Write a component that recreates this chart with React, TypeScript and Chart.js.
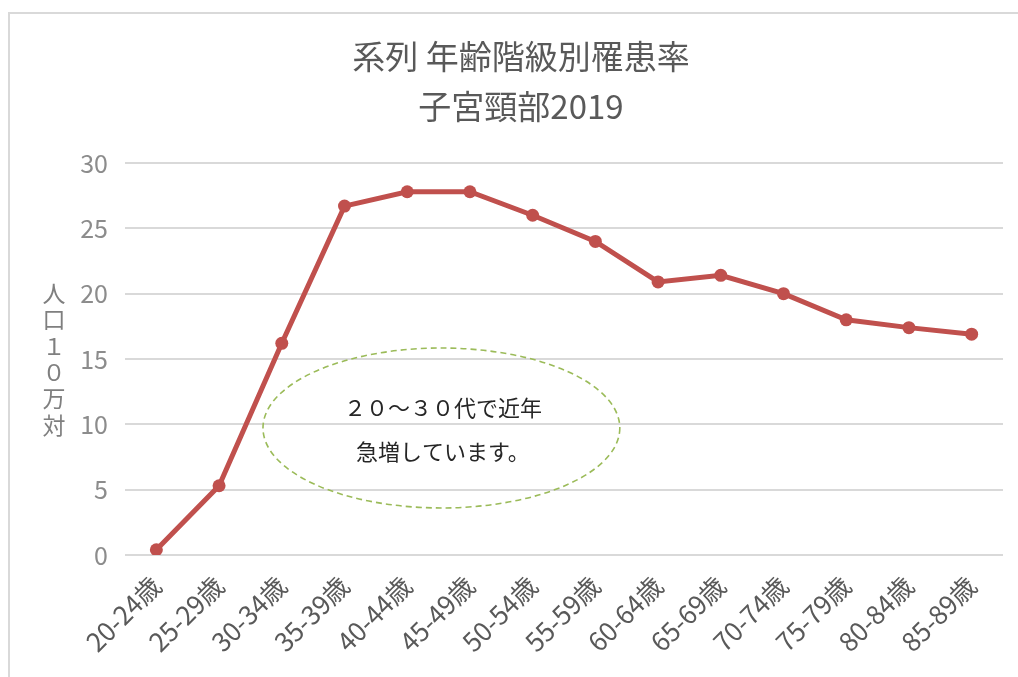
import React, { useEffect, useRef } from "react";
import { Chart, registerables } from "chart.js";

Chart.register(...registerables);

const TITLE_LINES = ["系列 年齢階級別罹患率", "子宮頸部2019"];
const CATEGORIES = [
  "20-24歳", "25-29歳", "30-34歳", "35-39歳", "40-44歳", "45-49歳", "50-54歳",
  "55-59歳", "60-64歳", "65-69歳", "70-74歳", "75-79歳", "80-84歳", "85-89歳",
];
const RATES = [0.4, 5.3, 16.2, 26.7, 27.8, 27.8, 26.0, 24.0, 20.9, 21.4, 20.0, 18.0, 17.4, 16.9];
const Y_MIN = 0;
const Y_MAX = 30;
const Y_STEP = 5;
const Y_AXIS_TITLE = "人口１０万対";
const NOTE_LINES = ["２０～３０代で近年", "急増しています。"];
// note text anchors in data units: [category index, value]
const NOTE_TEXT_POS = [
  [4.57, 11.3],
  [4.57, 7.9],
];
// ellipse extents in data units: category index range and value range
const NOTE_X_RANGE = [1.7, 7.39];
const NOTE_Y_RANGE = [3.6, 15.84];

const JP_FONT = "'Noto Sans CJK JP', 'Noto Sans', sans-serif";

const decorations = {
  id: "decorations",
  afterDatasetsDraw(chart: any) {
    const { ctx, chartArea, scales } = chart;
    const xs = scales.x;
    const ys = scales.y;
    ctx.save();
    // ellipse annotation
    const l = xs.getPixelForValue(NOTE_X_RANGE[0]);
    const r = xs.getPixelForValue(NOTE_X_RANGE[1]);
    const t = ys.getPixelForValue(NOTE_Y_RANGE[1]);
    const b = ys.getPixelForValue(NOTE_Y_RANGE[0]);
    ctx.beginPath();
    ctx.ellipse((l + r) / 2, (t + b) / 2, (r - l) / 2, (b - t) / 2, 0, 0, Math.PI * 2);
    ctx.setLineDash([6, 4]);
    ctx.lineWidth = 1.6;
    ctx.strokeStyle = "#9bbb59";
    ctx.stroke();
    ctx.setLineDash([]);
    // note text
    ctx.fillStyle = "#262626";
    ctx.font = `22px ${JP_FONT}`;
    ctx.textAlign = "center";
    ctx.textBaseline = "middle";
    NOTE_LINES.forEach((line, i) => {
      const [cx, cy] = NOTE_TEXT_POS[i];
      ctx.fillText(line, xs.getPixelForValue(cx), ys.getPixelForValue(cy));
    });
    // stacked y-axis title
    ctx.fillStyle = "#7f7f7f";
    ctx.font = `23px ${JP_FONT}`;
    const chars = Array.from(Y_AXIS_TITLE);
    const step = 26.4;
    const midY = (chartArea.top + chartArea.bottom) / 2;
    const startY = midY - ((chars.length - 1) * step) / 2;
    chars.forEach((c, i) => {
      ctx.fillText(c, 44, startY + i * step);
    });
    ctx.restore();
  },
};

export default function App() {
  const canvasRef = useRef<HTMLCanvasElement | null>(null);

  useEffect(() => {
    if (!canvasRef.current) return;
    const chart = new Chart(canvasRef.current, {
      type: "line",
      data: {
        labels: CATEGORIES,
        datasets: [
          {
            data: RATES,
            borderColor: "#c0504d",
            backgroundColor: "#c0504d",
            borderWidth: 5,
            pointRadius: 6.5,
            pointBorderWidth: 0,
            pointHoverRadius: 6.5,
            tension: 0,
          },
        ],
      },
      options: {
        animation: false,
        responsive: false,
        maintainAspectRatio: false,
        events: [],
        layout: { padding: { left: 29, right: 15, top: 0, bottom: 0 } },
        plugins: {
          legend: { display: false },
          tooltip: { enabled: false },
          title: {
            display: true,
            text: TITLE_LINES,
            color: "#595959",
            font: { size: 33, family: JP_FONT, weight: "normal", lineHeight: 1.5 },
            padding: { top: 18, bottom: 32 },
          },
        },
        scales: {
          x: {
            type: "category",
            offset: true,
            grid: { display: false },
            border: { display: false },
            ticks: {
              autoSkip: false,
              minRotation: 45,
              maxRotation: 45,
              padding: 7,
              color: "#595959",
              font: { size: 26, family: JP_FONT },
            },
            afterFit(scale: any) {
              scale.height = 122;
            },
          },
          y: {
            min: Y_MIN,
            max: Y_MAX,
            grid: { color: "#d9d9d9", lineWidth: 2, drawTicks: false },
            border: { display: false },
            ticks: {
              stepSize: Y_STEP,
              padding: 17,
              color: "#8c8c8c",
              font: { size: 25, family: JP_FONT },
            },
            afterFit(scale: any) {
              scale.width = 86;
            },
          },
        },
      },
      plugins: [decorations],
    });
    return () => chart.destroy();
  }, []);

  return (
    <div
      style={{
        position: "fixed",
        left: 8,
        top: 12,
        width: 1010,
        height: 665,
        boxSizing: "border-box",
        borderLeft: "2px solid #d9d9d9",
        borderTop: "2px solid #d9d9d9",
        background: "#fff",
      }}
    >
      <canvas ref={canvasRef} width={1008} height={663} style={{ display: "block" }} />
    </div>
  );
}
